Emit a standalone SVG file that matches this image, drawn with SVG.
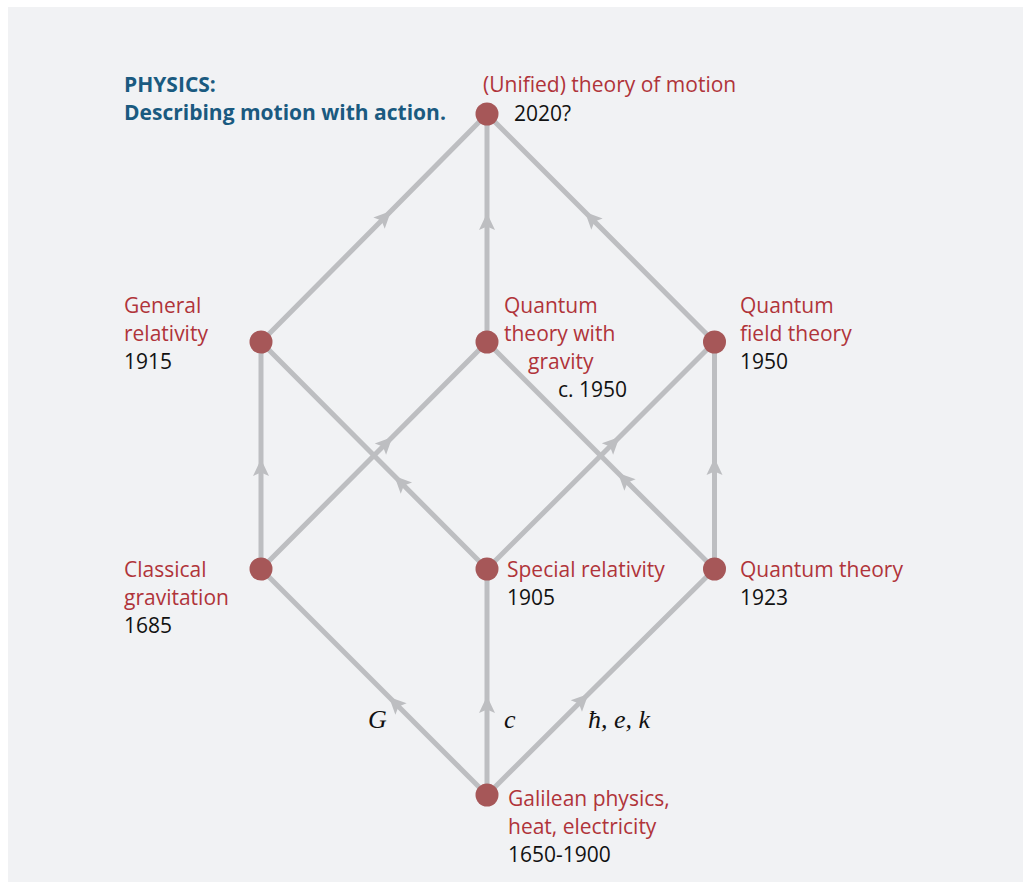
<svg xmlns="http://www.w3.org/2000/svg" width="1027" height="882" viewBox="0 0 1027 882">
<defs>
<style>
.bg{fill:#f1f2f4}
.edge{fill:none;stroke:#bdbec1;stroke-width:5;marker-mid:url(#arr)}
.node{fill:#a65758}
.lbl{font-family:"Open Sans","Liberation Sans",sans-serif;font-size:21px;fill:#b0343a}
.yr{font-family:"Open Sans","Liberation Sans",sans-serif;font-size:21px;fill:#111111}
.title{font-family:"Open Sans","Liberation Sans",sans-serif;font-size:21px;font-weight:bold;fill:#1a5a80}
.sym{font-family:"Liberation Serif","Times New Roman",serif;font-size:26px;font-style:italic;fill:#111111}
</style>
<marker id="arr" markerUnits="userSpaceOnUse" markerWidth="20" markerHeight="20" viewBox="-18 -10 20 20" refX="0" refY="0" orient="auto" overflow="visible">
<path d="M0,0 L-17,-8 L-13.5,0 L-17,8 Z" fill="#bdbec1"/>
</marker>
</defs>
<rect class="bg" x="8" y="7" width="1015" height="875"/>
<g id="connectors">
<path class="edge" d="M487,795 L389,697 L261,569"/>
<path class="edge" d="M487,795 L487,696 L487,569"/>
<path class="edge" d="M487,795 L588.4,694 L714.5,569"/>
<path class="edge" d="M261,569 L261,459 L261,342"/>
<path class="edge" d="M261,569 L392.4,437 L487,342"/>
<path class="edge" d="M487,569 L394.4,476 L261,342"/>
<path class="edge" d="M487,569 L619.5,437 L714.5,342"/>
<path class="edge" d="M714.5,569 L618,473 L487,342"/>
<path class="edge" d="M714.5,569 L714.5,458 L714.5,342"/>
<path class="edge" d="M261,342 L391,211 L487,114"/>
<path class="edge" d="M487,342 L487,213 L487,114"/>
<path class="edge" d="M714.5,342 L585,212 L487,114"/>
</g>
<g id="title">
<text class="title" x="124" y="92">PHYSICS:</text>
<text class="title" x="124" y="120">Describing motion with action.</text>
</g>
<g id="node-unified">
<circle class="node" cx="487" cy="114" r="11.5"/>
<text class="lbl" x="483" y="92">(Unified) theory of motion</text>
<text class="yr" x="514" y="121">2020?</text>
</g>
<g id="node-general-relativity">
<circle class="node" cx="261" cy="342" r="11.5"/>
<text class="lbl" x="124" y="313">General</text>
<text class="lbl" x="124" y="341">relativity</text>
<text class="yr" x="124" y="369">1915</text>
</g>
<g id="node-quantum-gravity">
<circle class="node" cx="487" cy="342" r="11.5"/>
<text class="lbl" x="504" y="313">Quantum</text>
<text class="lbl" x="504" y="341">theory with</text>
<text class="lbl" x="528" y="369">gravity</text>
<text class="yr" x="558" y="397">c. 1950</text>
</g>
<g id="node-qft">
<circle class="node" cx="714.5" cy="342" r="11.5"/>
<text class="lbl" x="740" y="313">Quantum</text>
<text class="lbl" x="740" y="341">field theory</text>
<text class="yr" x="740" y="369">1950</text>
</g>
<g id="node-classical-gravitation">
<circle class="node" cx="261" cy="569" r="11.5"/>
<text class="lbl" x="124" y="577">Classical</text>
<text class="lbl" x="124" y="605">gravitation</text>
<text class="yr" x="124" y="633">1685</text>
</g>
<g id="node-special-relativity">
<circle class="node" cx="487" cy="569" r="11.5"/>
<text class="lbl" x="507" y="577">Special relativity</text>
<text class="yr" x="507" y="605">1905</text>
</g>
<g id="node-quantum-theory">
<circle class="node" cx="714.5" cy="569" r="11.5"/>
<text class="lbl" x="740" y="577">Quantum theory</text>
<text class="yr" x="740" y="605">1923</text>
</g>
<g id="node-galilean">
<circle class="node" cx="487" cy="795" r="11.5"/>
<text class="lbl" x="508" y="806">Galilean physics,</text>
<text class="lbl" x="508" y="834">heat, electricity</text>
<text class="yr" x="508" y="862">1650-1900</text>
</g>
<g id="edge-labels">
<text class="sym" x="368" y="728">G</text>
<text class="sym" x="504" y="728">c</text>
<text class="sym" x="588" y="728">ħ, e, k</text>
</g>
</svg>
